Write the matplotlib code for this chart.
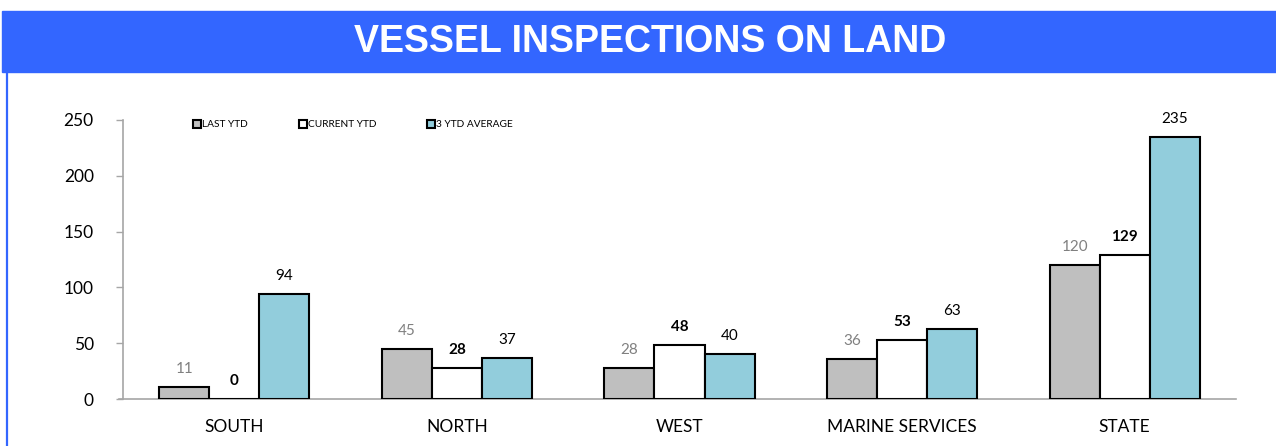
import numpy as np
import matplotlib
matplotlib.use("Agg")
import matplotlib.pyplot as plt
from matplotlib.patches import Rectangle
from matplotlib.lines import Line2D

# inspection counts per region
regions = ["SOUTH", "NORTH", "WEST", "MARINE SERVICES", "STATE"]
last_ytd = [11, 45, 28, 36, 120]
current_ytd = [0, 28, 48, 53, 129]
avg_3ytd = [94, 37, 40, 63, 235]
series_names = ["LAST YTD", "CURRENT YTD", "3 YTD AVERAGE"]

plt.rcParams["font.family"] = ["Lato", "DejaVu Sans"]

fig = plt.figure(figsize=(12.76, 4.46), dpi=100)
W, H = 1276, 446

# title banner and left border
fig.patches.append(Rectangle((2 / W, 1 - 72 / H), 1 - 2 / W, 61 / H,
                             transform=fig.transFigure, color="#3366FF", zorder=0))
fig.lines.append(Line2D([7 / W, 7 / W], [0, 1 - 72 / H], transform=fig.transFigure,
                        color="#3366FF", lw=1.6))
fig.text(650 / W, 1 - 42.5 / H, "VESSEL INSPECTIONS ON LAND", ha="center", va="center",
         color="white", fontsize=27, fontweight="bold", family="Liberation Sans")

ax = fig.add_axes([123 / W, 1 - 399 / H, 1113 / W, 279 / H])

x = np.arange(len(regions))
bw = 0.225
kw = dict(edgecolor="black", linewidth=1.5, zorder=3)
b1 = ax.bar(x - bw, last_ytd, bw, color="#BFBFBF", label=series_names[0], **kw)
b2 = ax.bar(x, current_ytd, bw, color="white", label=series_names[1], **kw)
b3 = ax.bar(x + bw, avg_3ytd, bw, color="#92CDDC", label=series_names[2], **kw)

for bars, vals, col, wt in [(b1, last_ytd, "#808080", "normal"),
                            (b2, current_ytd, "black", "bold"),
                            (b3, avg_3ytd, "black", "normal")]:
    for rect, v in zip(bars, vals):
        ax.annotate(str(v), (rect.get_x() + rect.get_width() / 2, v),
                    xytext=(0, 8), textcoords="offset points", ha="center",
                    va="bottom", fontsize=11, color=col, fontweight=wt)

ax.set_xlim(-0.5, len(regions) - 0.5)
ax.set_ylim(0, 250)
ax.set_yticks(range(0, 251, 50))
ax.set_xticks(x)
ax.set_xticklabels(regions)
ax.tick_params(axis="x", length=0, pad=14.5, labelsize=12.5)
ax.tick_params(axis="y", length=5, width=1, color="#A6A6A6", pad=16, labelsize=12.5)
for s in ["top", "right"]:
    ax.spines[s].set_visible(False)
for s in ["left", "bottom"]:
    ax.spines[s].set_color("#A6A6A6")
    ax.spines[s].set_linewidth(1.2)
ax.spines["bottom"].set_bounds(-0.52, len(regions) - 0.5)

ax.legend(loc="upper left", bbox_to_anchor=(0.063, 1.0), ncol=3, frameon=False,
          fontsize=7.3, handlelength=0.8, handleheight=0.8, handletextpad=0.1,
          columnspacing=5.0, borderpad=0, borderaxespad=0)

fig.savefig("out.png", dpi=100)
